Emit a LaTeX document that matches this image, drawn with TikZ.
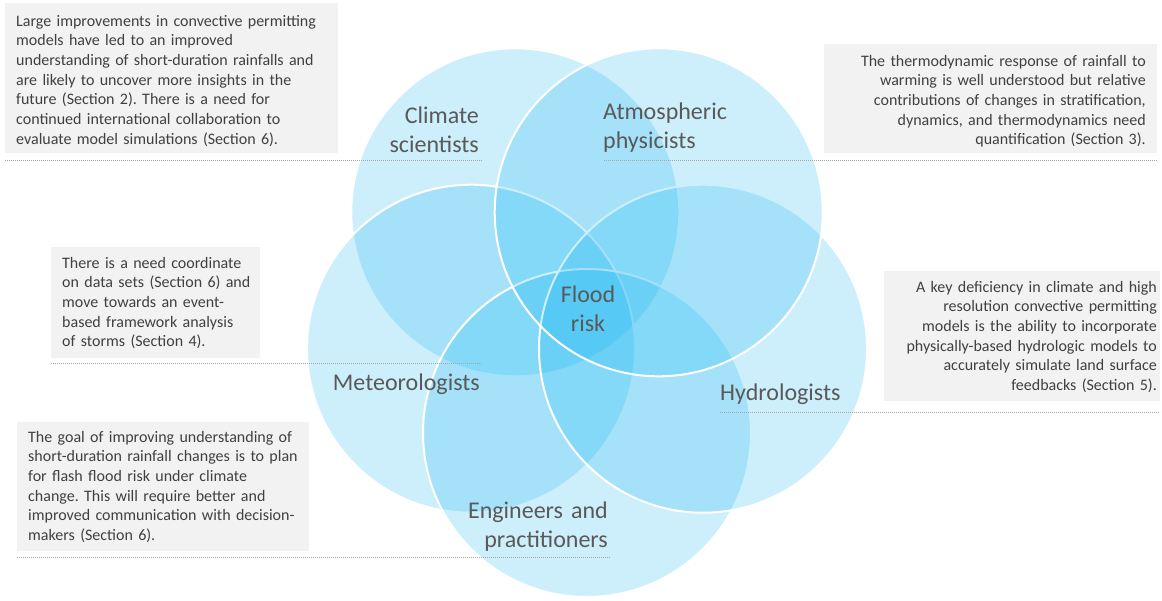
\documentclass[tikz,border=0pt]{standalone}
\usepackage{fontspec}
\setmainfont{Carlito}
\usetikzlibrary{calc}
\definecolor{vblue}{RGB}{5,175,240}
\definecolor{boxgray}{HTML}{F2F2F2}
\definecolor{notegray}{HTML}{404040}
\definecolor{labelgray}{HTML}{595959}
\definecolor{rulegray}{HTML}{A6A6A6}
\frenchspacing
\begin{document}
\begin{tikzpicture}[x=1pt,y=-1pt,
  venn/.style={circle, minimum size=328pt, inner sep=0pt, outer sep=0pt, fill=vblue, fill opacity=0.2, draw=white, line width=2pt},
  notebox/.style={fill=boxgray, draw=none, inner sep=0pt, outer sep=0pt, anchor=north west},
  notetext/.style={text=notegray, font=\fontsize{16}{19.7}\selectfont, inner sep=0pt, text width=345pt},
  vlabel/.style={text=labelgray, font=\fontsize{24}{29.5}\selectfont, inner sep=0pt, text width=200pt},
  rulestyle/.style={draw=rulegray, line width=0.8pt, dash pattern=on 1.2pt off 0.8pt}]
\useasboundingbox (0,0) rectangle (1162,600);
% Venn circles
\coordinate (O) at (587,311);
\node[venn] (climate) at ($(O)+(234:122)$) {};
\node[venn] (meteo) at ($(O)+(162:122)$) {};
\node[venn] (engin) at ($(O)+(90:122)$) {};
\node[venn] (hydro) at ($(O)+(18:122)$) {};
\node[venn] (atmos) at ($(O)+(306:122)$) {};
% grey note boxes
\node[notebox, minimum width=333pt, minimum height=150pt] (b1) at (5,3) {};
\node[notebox, minimum width=333pt, minimum height=109pt] (b2) at (824,44) {};
\node[notebox, minimum width=209pt, minimum height=111pt] (b3) at (51,247) {};
\node[notebox, minimum width=276pt, minimum height=130pt] (b4) at (884,271) {};
\node[notebox, minimum width=292pt, minimum height=129pt] (b5) at (17,422) {};
% note texts
\node[notetext, align=left, anchor=base west] (t1) at (16,26) {Large improvements in convective permitting\\
models have led to an improved\\
understanding of short-duration rainfalls and\\
are likely to uncover more insights in the\\
future (Section 2). There is a need for\\
continued international collaboration to\\
evaluate model simulations (Section 6).};
\node[notetext, align=right, anchor=base east] (t2) at (1146,66) {The thermodynamic response of rainfall to\\
warming is well understood but relative\\
contributions of changes in stratification,\\
dynamics, and thermodynamics need\\
quantification (Section 3).};
\node[notetext, align=left, anchor=base west] (t3) at (62,268) {There is a need coordinate\\
on data sets (Section 6) and\\
move towards an event-\\
based framework analysis\\
of storms (Section 4).};
\node[notetext, align=right, anchor=base east] (t4) at (1157,292) {A key deficiency in climate and high\\
resolution convective permitting\\
models is the ability to incorporate\\
physically-based hydrologic models to\\
accurately simulate land surface\\
feedbacks (Section 5).};
\node[notetext, align=left, anchor=base west] (t5) at (28,442) {The goal of improving understanding of\\
short-duration rainfall changes is to plan\\
for flash flood risk under climate\\
change. This will require better and\\
improved communication with decision-\\
makers (Section 6).};
% circle labels
\node[vlabel, align=right, anchor=base east] (lclim) at (479,123) {Climate\\scientists};
\node[vlabel, align=left, anchor=base west] (latm) at (603,119) {Atmospheric\\physicists};
\node[vlabel, align=center, anchor=base] (lflood) at (588,302) {Flood\\risk};
\node[vlabel, align=right, anchor=base east] (lmet) at (480,390) {Meteorologists};
\node[vlabel, align=left, anchor=base west] (lhyd) at (720,400) {Hydrologists};
\node[vlabel, align=right, anchor=base east] (leng) at (608,518) {Engineers and\\practitioners};
% dashed rules
\coordinate (r1a) at (5,160);   \coordinate (r1b) at (482,160);
\coordinate (r2a) at (604,160); \coordinate (r2b) at (1158,160);
\coordinate (r3a) at (51,363);  \coordinate (r3b) at (482,363);
\coordinate (r4a) at (720,412); \coordinate (r4b) at (1160,412);
\coordinate (r5a) at (17,557);  \coordinate (r5b) at (610,557);
\draw[rulestyle] (r1a) -- (r1b);
\draw[rulestyle] (r2a) -- (r2b);
\draw[rulestyle] (r3a) -- (r3b);
\draw[rulestyle] (r4a) -- (r4b);
\draw[rulestyle] (r5a) -- (r5b);
\end{tikzpicture}
\end{document}
